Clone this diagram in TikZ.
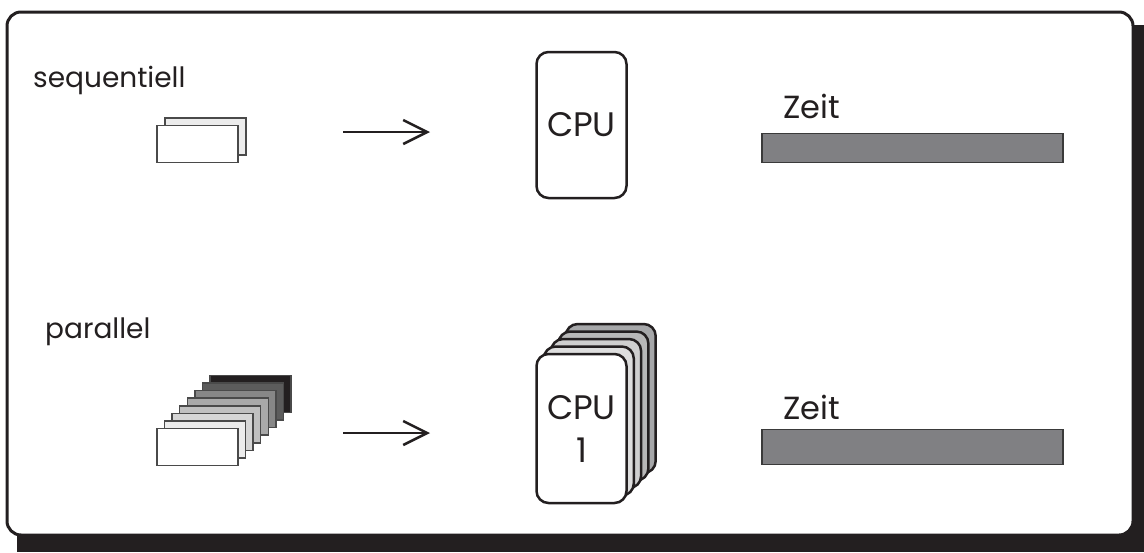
\documentclass[tikz,border=0pt]{standalone}
\usepackage{fontspec}
\setmainfont{Poppins}
\usetikzlibrary{arrows.meta}

\definecolor{ink}{HTML}{231F20}
\definecolor{docline}{HTML}{4A4A4A}
\definecolor{barfill}{HTML}{808083}
\definecolor{barline}{HTML}{3A3A3A}
\definecolor{pg1}{HTML}{ECECEC}
\definecolor{pg2}{HTML}{D6D6D6}
\definecolor{pg3}{HTML}{C0C0C0}
\definecolor{pg4}{HTML}{A9A9A9}
\definecolor{pg5}{HTML}{878787}
\definecolor{pg6}{HTML}{5C5C5C}
\definecolor{cg1}{HTML}{DEDEDE}
\definecolor{cg2}{HTML}{CFCFCF}
\definecolor{cg3}{HTML}{B8B8B8}
\definecolor{cg4}{HTML}{A6A7A9}

\begin{document}
\begin{tikzpicture}[
  x=1pt,y=-1pt,
  lbl/.style={font=\fontsize{28}{32}\selectfont,inner sep=0pt,anchor=base west,text=ink},
  doc/.style={draw=docline,line width=1.5pt,minimum width=81pt,minimum height=37pt,
              inner sep=0pt},
  cpu/.style={draw=ink,line width=2.5pt,rounded corners=12pt,minimum width=90pt,
              inner sep=0pt,align=center,text=ink,
              font=\fontsize{34}{43}\selectfont},
  bar/.style={draw=barline,fill=barfill,line width=1.5pt,minimum width=301pt,
              inner sep=0pt},
  flow/.style={-{Straight Barb[length=24pt,width=24pt]},line width=2.5pt,draw=ink}
]
\useasboundingbox (0,0) rectangle (1144,552);

% frame with drop shadow
\fill[ink] (17,25) rectangle (1144,552);
\draw[ink,fill=white,line width=3pt,rounded corners=14pt] (7,12) rectangle (1133,535);

% sequential row
\node[lbl] (seq) at (33,87) {sequentiell};
\node[doc,fill=pg1] (s1) at (205.5,136.5) {};
\node[doc,fill=white] (s0) at (197.5,144) {};
\coordinate (a1s) at (343,132);
\coordinate (a1e) at (430,132);
\draw[flow] (a1s) -- (a1e);
\node[cpu,fill=white,minimum height=146pt] (cpu) at (581.5,125) {CPU};
\node[bar,minimum height=29pt] (t1) at (912.5,148) {};
\node[lbl,font=\fontsize{32}{36}\selectfont] (z1) at (783,118) {Zeit};

% parallel row
\node[lbl] (par) at (45,338) {parallel};
\foreach \i/\c in {7/ink,6/pg6,5/pg5,4/pg4,3/pg3,2/pg2,1/pg1,0/white}
  \node[doc,fill=\c] (p\i) at (197.5+7.57*\i,447-7.57*\i) {};
\coordinate (a2s) at (343,433);
\coordinate (a2e) at (430,433);
\draw[flow] (a2s) -- (a2e);
\foreach \i/\c in {4/cg4,3/cg3,2/cg2,1/cg1}
  \node[cpu,fill=\c,minimum height=149pt] (c\i) at (581.5+7.3*\i,428.5-7.5*\i) {};
\node[cpu,fill=white,minimum height=149pt] (c0) at (581.5,428.5) {CPU\\1};
\node[bar,minimum height=35pt] (t2) at (912.5,447) {};
\node[lbl,font=\fontsize{32}{36}\selectfont] (z2) at (783,419) {Zeit};
\end{tikzpicture}
\end{document}
